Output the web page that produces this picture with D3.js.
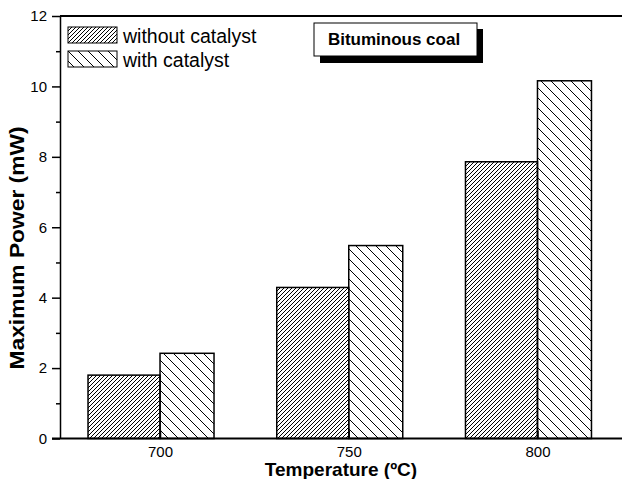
<!DOCTYPE html>
<html>
<head>
<meta charset="utf-8">
<script src="https://cdn.jsdelivr.net/npm/d3@7"></script>
<style>
    body { margin: 0; background: #fff; }
    svg { display: block; font-family: "Liberation Sans", Arial, sans-serif; }
</style>
</head>
<body>
<svg id="grafico"></svg>
<script>
// Datos del gráfico
var temperaturas = ["700", "750", "800"];
var sinCatalizador = [1.80, 4.29, 7.86];
var conCatalizador = [2.42, 5.48, 10.16];
var series = ["without catalyst", "with catalyst"];
var ticksY = [0, 2, 4, 6, 8, 10, 12];
var titulo = "Bituminous coal";

var ancho = 622, alto = 479;
var izq = 60, arriba = 16, abajo = 438.5, dcha = 637.5;

var svg = d3.select("#grafico")
    .attr("width", ancho)
    .attr("height", alto);

// Tramas
var defs = svg.append("defs");
defs.append("pattern")
    .attr("id", "trama1")
    .attr("patternUnits", "userSpaceOnUse")
    .attr("width", 4).attr("height", 4)
    .append("path")
    .attr("d", "M-1,1 l2,-2 M0,4 l4,-4 M3,5 l2,-2")
    .attr("stroke", "black")
    .attr("stroke-width", 1);
defs.append("pattern")
    .attr("id", "trama2")
    .attr("patternUnits", "userSpaceOnUse")
    .attr("width", 10).attr("height", 10)
    .append("path")
    .attr("d", "M-1,9 l2,2 M0,0 l10,10 M9,-1 l2,2")
    .attr("stroke", "black")
    .attr("stroke-width", 1);

// Escalas
var x = d3.scalePoint()
    .domain(temperaturas)
    .range([izq, dcha])
    .padding(0.53);
var y = d3.scaleLinear()
    .domain([0, 12])
    .range([abajo, arriba]);

var anchoSin = 72, anchoCon = 54;

// Barras
svg.append("g")
    .selectAll("rect")
    .data(sinCatalizador)
    .enter()
    .append("rect")
    .attr("x", (d, i) => x(temperaturas[i]) - anchoSin)
    .attr("y", d => y(d))
    .attr("width", anchoSin)
    .attr("height", d => y(0) - y(d))
    .attr("fill", "url(#trama1)")
    .attr("stroke", "black")
    .attr("stroke-width", 1.5);
svg.append("g")
    .selectAll("rect")
    .data(conCatalizador)
    .enter()
    .append("rect")
    .attr("x", (d, i) => x(temperaturas[i]))
    .attr("y", d => y(d))
    .attr("width", anchoCon)
    .attr("height", d => y(0) - y(d))
    .attr("fill", "url(#trama2)")
    .attr("stroke", "black")
    .attr("stroke-width", 1.5);

// Ejes
var ejeY = svg.append("g")
    .attr("transform", "translate(" + izq + ",0)")
    .call(d3.axisLeft(y).tickValues(ticksY).tickSize(8).tickPadding(5).tickSizeOuter(0));
svg.append("g")
    .attr("transform", "translate(" + izq + ",0)")
    .call(d3.axisLeft(y).tickValues(d3.range(1, 12, 2)).tickSize(4).tickFormat("").tickSizeOuter(0))
    .select(".domain").remove();
var ejeX = svg.append("g")
    .attr("transform", "translate(0," + abajo + ")")
    .call(d3.axisBottom(x).tickSizeInner(-8).tickSizeOuter(0).tickPadding(8));
svg.selectAll(".tick text")
    .attr("font-family", "Liberation Sans, Arial, sans-serif")
    .attr("font-size", "15px")
    .attr("fill", "black");
svg.selectAll(".domain, .tick line")
    .attr("stroke", "black")
    .attr("stroke-width", 1.5);
ejeX.select(".domain").attr("stroke-width", 2);

// Línea superior del marco
svg.append("line")
    .attr("x1", izq).attr("x2", dcha)
    .attr("y1", arriba).attr("y2", arriba)
    .attr("stroke", "black")
    .attr("stroke-width", 2);
ejeX.select(".domain").attr("d", "M" + (izq - 8) + ",0H" + dcha);

// Títulos de los ejes
svg.append("text")
    .attr("x", 341)
    .attr("y", 476)
    .attr("text-anchor", "middle")
    .style("font-weight", "bold")
    .style("font-size", "19px")
    .text("Temperature (ºC)");
svg.append("text")
    .attr("transform", "translate(24,248) rotate(-90)")
    .attr("text-anchor", "middle")
    .attr("textLength", 243)
    .attr("lengthAdjust", "spacingAndGlyphs")
    .style("font-weight", "bold")
    .style("font-size", "20px")
    .text("Maximum Power (mW)");

// Leyenda
var leyenda = svg.append("g")
    .selectAll("g")
    .data(series)
    .enter()
    .append("g")
    .attr("transform", (d, i) => "translate(68," + (27 + i * 24) + ")");
leyenda.append("rect")
    .attr("width", 49)
    .attr("height", 16)
    .attr("fill", (d, i) => i == 0 ? "url(#trama1)" : "url(#trama2)")
    .attr("stroke", "black")
    .attr("stroke-width", 1);
leyenda.append("text")
    .attr("x", 55)
    .attr("y", 16)
    .style("font-size", "19.5px")
    .text(d => d);

// Caja del título con sombra
svg.append("rect")
    .attr("x", 320).attr("y", 29)
    .attr("width", 163).attr("height", 34)
    .attr("fill", "black");
svg.append("rect")
    .attr("x", 314).attr("y", 23)
    .attr("width", 163).attr("height", 33)
    .attr("fill", "white")
    .attr("stroke", "black")
    .attr("stroke-width", 1);
svg.append("text")
    .attr("x", 394)
    .attr("y", 45)
    .attr("text-anchor", "middle")
    .style("font-weight", "bold")
    .style("font-size", "17px")
    .text(titulo);
</script>
</body>
</html>
